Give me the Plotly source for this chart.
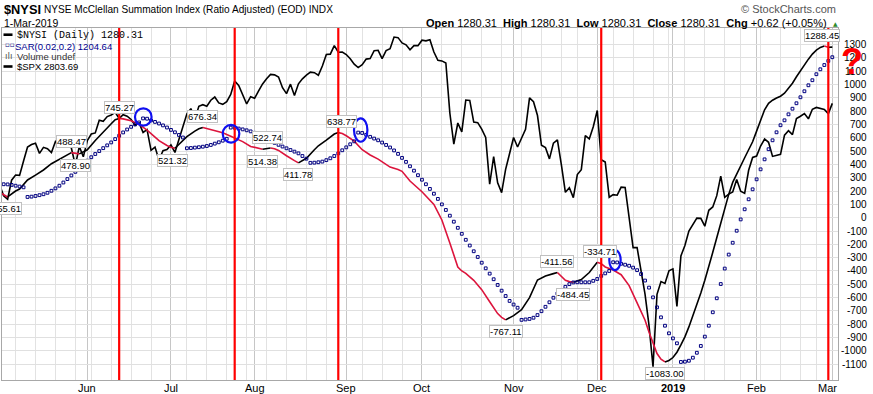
import math
import pandas as pd
import plotly.graph_objects as go

# ---------------- calendar (NYSE trading days) ----------------
holidays = ["2018-05-28", "2018-07-04", "2018-09-03", "2018-11-22", "2018-12-05",
            "2018-12-25", "2019-01-01", "2019-01-21", "2019-02-18"]
trade_days = [d.strftime("%Y-%m-%d") for d in pd.bdate_range("2018-05-01", "2019-03-01")
              if d.strftime("%Y-%m-%d") not in holidays]
day_index = {d: i for i, d in enumerate(trade_days)}
N = len(trade_days)

month_labels = ["Jun", "Jul", "Aug", "Sep", "Oct", "Nov", "Dec", "<b>2019</b>", "Feb", "Mar"]
y_ticks = list(range(-1100, 1301, 100))

# ---------------- $NYSI (read at selected days) ----------------
nysi_dates = [
    "2018-05-01", "2018-05-02", "2018-05-03", "2018-05-07", "2018-05-08", "2018-05-10", "2018-05-14",
    "2018-05-16", "2018-05-18", "2018-05-22", "2018-05-23", "2018-05-24", "2018-05-25", "2018-05-29",
    "2018-05-30",
    "2018-06-01", "2018-06-05", "2018-06-07", "2018-06-11", "2018-06-12", "2018-06-13", "2018-06-14",
    "2018-06-18", "2018-06-20", "2018-06-22", "2018-06-25", "2018-06-26", "2018-06-27", "2018-06-29",
    "2018-07-02", "2018-07-03", "2018-07-05", "2018-07-06", "2018-07-09", "2018-07-11", "2018-07-12",
    "2018-07-13", "2018-07-17", "2018-07-20", "2018-07-24", "2018-07-25", "2018-07-27", "2018-07-31",
    "2018-08-02", "2018-08-03", "2018-08-06", "2018-08-07", "2018-08-08", "2018-08-09", "2018-08-10",
    "2018-08-13", "2018-08-15", "2018-08-16", "2018-08-20", "2018-08-22", "2018-08-23", "2018-08-27",
    "2018-08-29", "2018-08-30", "2018-08-31",
    "2018-09-04", "2018-09-06", "2018-09-10", "2018-09-12", "2018-09-14", "2018-09-19", "2018-09-21",
    "2018-09-24", "2018-09-26",
    "2018-10-01", "2018-10-04", "2018-10-08", "2018-10-10", "2018-10-11", "2018-10-12", "2018-10-15",
    "2018-10-16", "2018-10-18", "2018-10-22", "2018-10-24", "2018-10-26", "2018-10-29", "2018-10-30",
    "2018-10-31",
    "2018-11-01", "2018-11-05", "2018-11-07", "2018-11-09", "2018-11-13", "2018-11-15", "2018-11-16",
    "2018-11-19", "2018-11-20", "2018-11-21", "2018-11-23", "2018-11-27", "2018-11-29", "2018-11-30",
    "2018-12-03", "2018-12-04", "2018-12-06", "2018-12-10", "2018-12-12", "2018-12-14", "2018-12-18",
    "2018-12-20", "2018-12-21", "2018-12-24", "2018-12-26", "2018-12-27", "2018-12-28", "2018-12-31",
    "2019-01-02", "2019-01-03", "2019-01-04", "2019-01-07", "2019-01-08", "2019-01-09", "2019-01-10",
    "2019-01-11", "2019-01-14", "2019-01-15", "2019-01-16", "2019-01-17", "2019-01-18", "2019-01-22",
    "2019-01-23", "2019-01-24", "2019-01-25", "2019-01-28", "2019-01-29", "2019-01-30", "2019-01-31",
    "2019-02-01", "2019-02-04", "2019-02-05", "2019-02-06", "2019-02-07", "2019-02-08", "2019-02-11",
    "2019-02-12", "2019-02-13", "2019-02-14", "2019-02-15", "2019-02-19", "2019-02-20", "2019-02-21",
    "2019-02-22", "2019-02-25", "2019-02-26", "2019-02-27", "2019-02-28",
    "2019-03-01",
]
nysi_values = [
    190, 172, 155.61, 200, 215, 283, 320,
    358, 405, 440, 458, 475, 488.47, 483,
    478.90,
    510, 580, 646, 705, 735, 745.27, 742,
    728, 700, 658, 632, 605, 578, 542,
    528, 521.32, 548, 575, 608, 650, 668,
    676.34, 662, 638, 612, 600, 571, 535,
    518, 514.38, 517, 522.74, 518, 505, 488,
    465, 428, 411.78, 446, 510, 540, 583,
    628, 638.77, 632,
    615, 575, 510, 471, 440, 380, 362,
    348, 275,
    195, 100, -17, -190, -280, -370, -400,
    -418, -470, -540, -631, -720, -748, -767.11,
    -752,
    -735, -690, -600, -468, -438, -420, -411.56,
    -440, -470, -480, -484.45, -465, -412, -372,
    -334.71, -345, -370, -393, -428, -510, -640,
    -770, -860, -943, -1020, -1062, -1083.00, -1072,
    -1050, -1010, -955, -895, -820, -740, -655,
    -565, -470, -370, -260, -150, -40, 70,
    175, 265, 330, 390, 450, 510, 570,
    650, 735, 810, 858, 882, 898, 912,
    935, 968, 1009, 1058, 1105, 1150, 1190,
    1228, 1258, 1278, 1288.45, 1279.69,
    1280.31,
]

# ---------------- Parabolic SAR(0.02,0.2), one dot per trading day ----------------
sar_values = [
    254, 251, 250, 246, 240, 234, 228, 155.61, 158, 163,
    169, 176, 187, 202, 220, 240, 264, 290, 317, 344,
    372, 400, 428, 454, 478, 500, 522, 543, 565, 590,
    615, 640, 662, 682, 700, 715, 745.27, 743, 730, 719,
    707, 693, 677, 659, 641, 621, 602, 521.32, 523, 526,
    529, 533, 538, 546, 556, 566, 578, 592, 676.34, 675,
    669, 663, 656, 648, 637, 624, 609, 594, 578, 562,
    547, 534, 521, 508, 496, 483, 463, 443, 411.78, 413,
    416, 421, 432, 446, 463, 483, 506, 528, 551, 573,
    638.77, 636, 622, 607, 594, 581, 564, 546, 527, 505,
    479, 449, 419, 386, 353, 319, 285, 251, 216, 180,
    141, 100, 58, 15, -30, -76, -121, -166, -209, -252,
    -295, -338, -380, -420, -462, -505, -548, -588, -625, -652,
    -676, -767.11, -764, -760, -751, -731, -702, -669, -635, -601,
    -569, -543, -519, -499, -486, -485, -485, -485, -485, -474,
    -460, -437, -418, -400, -334.71, -336, -346, -353, -361, -375,
    -394, -423, -472, -525, -598, -673, -748, -811, -868, -906,
    -943, -1083.00, -1081, -1074, -1051, -1014, -963, -893, -811, -710,
    -605, -498, -382, -277, -188, -98, -13, 63, 138, 213,
    288, 363, 438, 514, 581, 641, 694, 731, 776, 818,
    859, 904, 949, 994, 1032, 1077, 1114, 1146, 1177, 1204.64,
]

# ---------------- $SPX daily close (overlay, log scale) ----------------
spx_close = [
    # May 2018
    2654.80, 2635.67, 2629.73, 2663.42, 2672.63, 2671.92, 2697.79, 2723.07, 2727.72, 2730.13, 2711.45,
    2722.46, 2720.13, 2712.97, 2733.01, 2724.44, 2733.29, 2727.76, 2721.33, 2689.86, 2724.01, 2705.27,
    # Jun
    2734.62, 2746.87, 2748.80, 2772.35, 2770.37, 2779.03, 2782.00, 2786.85, 2775.63, 2782.49, 2779.66,
    2773.75, 2762.59, 2767.32, 2749.76, 2754.88, 2717.07, 2723.06, 2699.63, 2716.31, 2718.37,
    # Jul
    2726.71, 2713.22, 2736.61, 2759.82, 2784.17, 2793.84, 2774.02, 2798.29, 2801.31, 2798.43, 2809.55,
    2815.62, 2804.49, 2801.83, 2806.98, 2820.40, 2846.07, 2837.44, 2818.82, 2802.60, 2816.29,
    # Aug
    2813.36, 2827.22, 2840.35, 2850.40, 2858.45, 2857.70, 2853.58, 2833.28, 2821.93, 2839.96, 2818.37,
    2840.69, 2850.13, 2857.05, 2862.96, 2861.82, 2856.98, 2874.69, 2896.74, 2897.52, 2914.04, 2901.13,
    2901.52,
    # Sep
    2896.72, 2888.60, 2878.05, 2871.68, 2877.13, 2887.89, 2888.92, 2904.18, 2904.98, 2888.80, 2904.31,
    2907.95, 2930.75, 2929.67, 2919.37, 2915.56, 2905.97, 2914.00, 2913.98,
    # Oct
    2924.59, 2923.43, 2925.51, 2901.61, 2885.57, 2884.43, 2880.34, 2785.68, 2728.37, 2767.13, 2750.79,
    2809.92, 2809.21, 2768.78, 2767.78, 2755.88, 2740.69, 2656.10, 2705.57, 2658.69, 2641.25, 2682.63,
    2711.74,
    # Nov
    2740.37, 2723.06, 2738.31, 2755.45, 2813.89, 2806.83, 2781.01, 2726.22, 2722.18, 2701.58, 2730.20,
    2736.27, 2690.73, 2641.89, 2649.93, 2632.56, 2673.45, 2682.17, 2743.79, 2737.80, 2760.17,
    # Dec
    2790.37, 2700.06, 2695.95, 2633.08, 2637.72, 2636.78, 2651.07, 2650.54, 2599.95, 2545.94, 2546.16,
    2506.96, 2467.42, 2416.62, 2351.10, 2467.70, 2488.83, 2485.74, 2506.85,
    # Jan 2019
    2510.03, 2447.89, 2531.94, 2549.69, 2574.41, 2584.96, 2596.64, 2596.26, 2582.61, 2610.30, 2616.10,
    2635.96, 2670.71, 2632.90, 2638.70, 2642.33, 2664.76, 2643.85, 2640.00, 2681.05, 2704.10,
    # Feb
    2706.53, 2724.87, 2737.70, 2731.61, 2706.05, 2707.88, 2709.80, 2744.73, 2753.03, 2745.73, 2775.60,
    2779.76, 2784.70, 2774.88, 2792.67, 2796.11, 2793.90, 2792.38, 2784.49,
    # Mar
    2803.69,
]

# ---------------- peak / trough value labels ----------------
label_dates = ["2018-05-03", "2018-05-25", "2018-05-30", "2018-06-13", "2018-07-03", "2018-07-13",
               "2018-08-03", "2018-08-07", "2018-08-16", "2018-08-30", "2018-10-30", "2018-11-16",
               "2018-11-23", "2018-12-03", "2018-12-28", "2019-02-27"]
label_values = [155.61, 488.47, 478.90, 745.27, 521.32, 676.34, 514.38, 522.74, 411.78, 638.77,
                -767.11, -411.56, -484.45, -334.71, -1083.00, 1288.45]
label_kinds = ["low", "high", "low", "high", "low", "high", "low", "high", "low", "high",
               "low", "high", "low", "high", "low", "high"]

# hand-drawn marks
red_line_dates = ["2018-06-13", "2018-07-25", "2018-08-30", "2018-12-04", "2019-02-28"]
circle_dates = ["2018-06-21", "2018-07-24", "2018-09-07", "2018-12-10"]
circle_values = [756, 630, 658, -318]

# ---------------- geometry ----------------
W, H = 873, 394
ML, MR, MT, MB = 2, 35, 28, 14
PW, PH = W - ML - MR, H - MT - MB


def px(x):
    return (x - ML) / PW


def py(y):
    return (H - MB - y) / PH


x_range = [0.59, 210.43]
nysi_range = [-1218.5, 1424]
spx_range = [math.log10(2330.3), math.log10(2948.6)]

# month starts / week starts
month_idx, week_idx = [], []
prev = None
for i, d in enumerate(trade_days):
    ts = pd.Timestamp(d)
    if prev is not None:
        if ts.month != prev.month:
            month_idx.append(i)
        if ts.isocalendar()[1] != prev.isocalendar()[1]:
            week_idx.append(i)
    prev = ts

fig = go.Figure()

# SPX overlay (base axis, log)
fig.add_trace(go.Scatter(x=list(range(N)), y=spx_close, mode="lines",
                         line=dict(color="black", width=1.6), xaxis="x", yaxis="y",
                         hoverinfo="skip", showlegend=False))

# NYSI coloured by direction
nx = [day_index[d] for d in nysi_dates]
RED = "#DC143C"
seg_start = 0
for k in range(len(nysi_values) - 1):
    col = "black" if nysi_values[k + 1] >= nysi_values[k] else RED
    last = (k == len(nysi_values) - 2)
    nxt = None if last else ("black" if nysi_values[k + 2] >= nysi_values[k + 1] else RED)
    if last or nxt != col:
        fig.add_trace(go.Scatter(x=nx[seg_start:k + 2], y=nysi_values[seg_start:k + 2], mode="lines",
                                 line=dict(color=col, width=1.6), xaxis="x", yaxis="y2",
                                 hoverinfo="skip", showlegend=False))
        seg_start = k + 1

# SAR dots
fig.add_trace(go.Scatter(x=list(range(N)), y=sar_values, mode="markers",
                         marker=dict(symbol="square-open", size=2.8, color="#000080",
                                     line=dict(width=1, color="#000080")),
                         xaxis="x", yaxis="y2", hoverinfo="skip", showlegend=False))

shapes = []
for d in red_line_dates:
    xi = day_index[d]
    shapes.append(dict(type="line", xref="x", yref="paper", x0=xi, x1=xi, y0=0, y1=1,
                       line=dict(color="#FF0000", width=2.2), layer="above"))

circle_geom = [(0.2, 8.3, 8.7), (0.3, 8.3, 8.8), (2.5, 6.7, 11.7), (1.8, 5.7, 10.0)]
for d, v, (dx, rx, ry) in zip(circle_dates, circle_values, circle_geom):
    xi = day_index[d]
    shapes.append(dict(type="circle", xref="x", yref="y2", xsizemode="pixel", ysizemode="pixel",
                       xanchor=xi, yanchor=v, x0=dx - rx, x1=dx + rx, y0=-ry, y1=ry,
                       line=dict(color="#1010F0", width=2.2), layer="above"))

# legend dashes
for yy in (34.7, 66.5):
    shapes.append(dict(type="line", xref="paper", yref="paper", x0=px(3.5), x1=px(12.5),
                       y0=py(yy), y1=py(yy), line=dict(color="black", width=2.6), layer="above"))

annotations = []
FONT = "Liberation Sans"

# axis tick labels (placed at the tick values)
for i_m, lab in zip(month_idx, month_labels):
    annotations.append(dict(x=i_m, y=py(387.5), xref="x", yref="paper", text=lab, showarrow=False,
                            xanchor="center", yanchor="middle",
                            xshift=-5 if lab == "Mar" else 0,
                            font=dict(family=FONT, size=11, color="black")))
for v in y_ticks:
    annotations.append(dict(x=px(869), y=v, xref="paper", yref="y2", text=str(v), showarrow=False,
                            xanchor="right", yanchor="middle",
                            font=dict(family=FONT, size=10, color="black")))

# value labels
label_xshift = {"2018-05-30": -4, "2018-08-07": -3, "2018-08-30": 3, "2018-12-03": 3, "2019-02-27": -2,
                "2018-05-03": -1, "2018-07-03": -2}
for d, v, kind in zip(label_dates, label_values, label_kinds):
    annotations.append(dict(x=day_index[d], y=v, xref="x", yref="y2", text=f"{v:.2f}",
                            showarrow=False, yshift=11 if kind == "high" else -12,
                            xshift=label_xshift.get(d, 0),
                            font=dict(family=FONT, size=9.5, color="black"),
                            bgcolor="white", bordercolor="#c0c0c0", borderwidth=1, borderpad=0))

# header
annotations += [
    dict(x=px(2), y=py(9), xref="paper", yref="paper", xanchor="left", yanchor="middle",
         text="<b>$NYSI</b>", showarrow=False, font=dict(family=FONT, size=12.8, color="black")),
    dict(x=px(42), y=py(9.5), xref="paper", yref="paper", xanchor="left", yanchor="middle",
         text="NYSE McClellan Summation Index (Ratio Adjusted) (EOD) INDX", showarrow=False,
         font=dict(family=FONT, size=10.1, color="black")),
    dict(x=px(2), y=py(22.5), xref="paper", yref="paper", xanchor="left", yanchor="middle",
         text="1-Mar-2019", showarrow=False, font=dict(family=FONT, size=10.5, color="black")),
    dict(x=px(829), y=py(22.5), xref="paper", yref="paper", xanchor="right", yanchor="middle",
         text="<b>Open</b> 1280.31  <b>High</b> 1280.31  <b>Low</b> 1280.31  <b>Close</b> 1280.31  "
              "<b>Chg</b> +0.62 (+0.05%)",
         showarrow=False, font=dict(family=FONT, size=11, color="black")),
    dict(x=px(835), y=py(23), xref="paper", yref="paper", xanchor="center", yanchor="middle",
         text="▲", showarrow=False, font=dict(family="DejaVu Sans", size=6, color="#2e8b2e")),
    dict(x=px(838), y=py(9), xref="paper", yref="paper", xanchor="right", yanchor="middle",
         text="© StockCharts.com", showarrow=False, font=dict(family=FONT, size=11, color="#555555")),
    # legend block
    dict(x=px(15), y=py(35), xref="paper", yref="paper", xanchor="left", yanchor="middle",
         text="$NYSI (Daily) 1280.31", showarrow=False,
         font=dict(family="Liberation Mono", size=10, color="black")),
    dict(x=px(2.5), y=py(45.5), xref="paper", yref="paper", xanchor="left", yanchor="middle",
         text="▫▫", showarrow=False, font=dict(family="DejaVu Sans", size=7, color="#000080")),
    dict(x=px(12.5), y=py(46), xref="paper", yref="paper", xanchor="left", yanchor="middle",
         text="SAR(0.02,0.2) 1204.64", showarrow=False, font=dict(family=FONT, size=9.5, color="#000090")),
    dict(x=px(2.5), y=py(56.5), xref="paper", yref="paper", xanchor="left", yanchor="middle",
         text="ılı", showarrow=False, font=dict(family="DejaVu Sans", size=9, color="#555555")),
    dict(x=px(15), y=py(56.7), xref="paper", yref="paper", xanchor="left", yanchor="middle",
         text="Volume undef", showarrow=False, font=dict(family=FONT, size=9.5, color="#333333")),
    dict(x=px(15), y=py(66.5), xref="paper", yref="paper", xanchor="left", yanchor="middle",
         text="$SPX 2803.69", showarrow=False, font=dict(family=FONT, size=9.5, color="black")),
    # big red question mark
    dict(x=px(852), y=py(62), xref="paper", yref="paper", xanchor="center", yanchor="middle",
         text="<b>?</b>", showarrow=False, font=dict(family=FONT, size=36, color="#FF0000")),
]

fig.update_layout(
    width=W, height=H,
    margin=dict(l=ML, r=MR, t=MT, b=MB, pad=0),
    paper_bgcolor="white", plot_bgcolor="white",
    showlegend=False,
    hovermode=False,
    font=dict(family=FONT, size=11, color="black"),
    xaxis=dict(range=x_range, tickmode="array", tickvals=month_idx, showticklabels=False,
               showgrid=True, gridcolor="#c6c6c6", gridwidth=1, ticks="", zeroline=False,
               showline=True, mirror=True, linecolor="#a8a8a8", linewidth=1,
               minor=dict(tickmode="array", tickvals=week_idx, showgrid=True, gridcolor="#e2e2e2",
                          gridwidth=1)),
    yaxis=dict(type="log", range=spx_range, showgrid=False, showticklabels=False, zeroline=False,
               showline=True, mirror=True, linecolor="#a8a8a8", linewidth=1, ticks=""),
    yaxis2=dict(overlaying="y", range=nysi_range, tickmode="array", tickvals=y_ticks,
                showticklabels=False, showgrid=True, gridcolor="#e0e0e0", gridwidth=1,
                zeroline=False, ticks=""),
    shapes=shapes,
    annotations=annotations,
)

fig.write_html("out.html",
               config={"displayModeBar": False, "staticPlot": True},
               post_script="document.body.style.margin='0';document.body.style.padding='0';"
                           "document.body.style.overflow='hidden';")
